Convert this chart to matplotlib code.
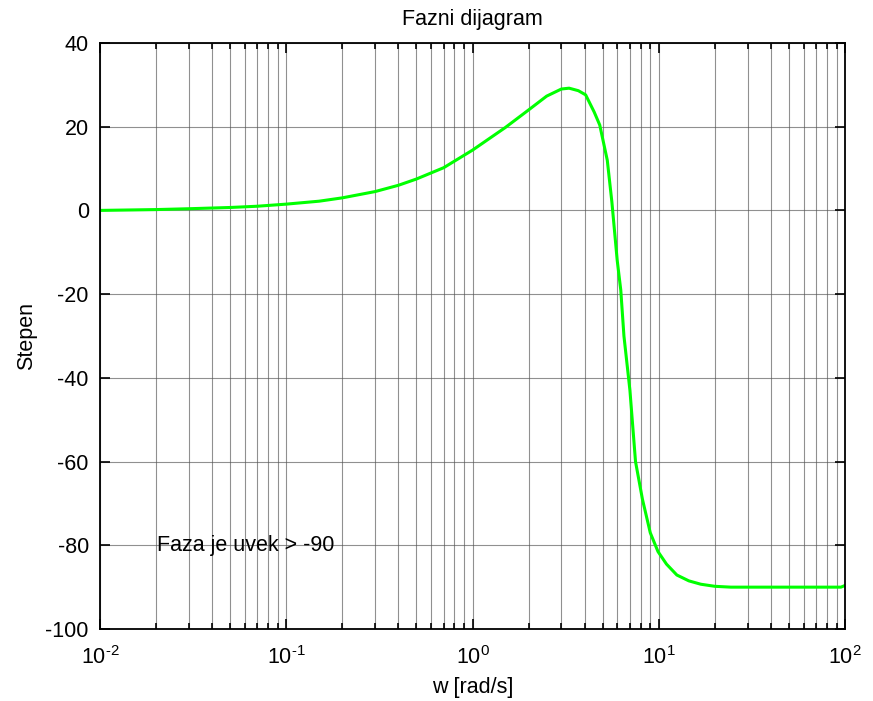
import matplotlib
matplotlib.use("Agg")
import matplotlib.pyplot as plt
import numpy as np
from matplotlib.ticker import LogLocator, MultipleLocator, NullFormatter, FuncFormatter

# --- fazni dijagram (procitano sa slike) ---
w = [0.01, 0.02, 0.03, 0.05, 0.07, 0.1, 0.15, 0.2, 0.3, 0.4, 0.5, 0.7,
     1.0, 1.5, 2.0, 2.5, 3.0, 3.3, 3.7, 4.05, 4.5, 4.82, 5.29, 5.6, 5.98,
     6.25, 6.5, 7.0, 7.5, 8.17, 9.0, 9.9, 11.0, 12.5, 14.5, 16.8, 20.0,
     24.4, 40.0, 70.0, 95.0, 100.0]
faza = [0.0, 0.2, 0.4, 0.7, 1.0, 1.5, 2.2, 3.0, 4.5, 6.0, 7.5, 10.2,
        14.4, 19.8, 24.0, 27.3, 29.0, 29.2, 28.6, 27.6, 23.5, 20.4, 12.0,
        2.0, -11.9, -19.0, -30.0, -43.0, -60.0, -69.0, -77.0, -81.5, -84.5,
        -87.1, -88.5, -89.3, -89.8, -90.0, -90.0, -90.0, -90.0, -89.6]

naslov = "Fazni dijagram"
xlab = "w [rad/s]"
ylab = "Stepen"
napomena = "Faza je uvek > -90"

plt.rcParams["font.family"] = ["Liberation Sans", "DejaVu Sans"]
plt.rcParams["axes.unicode_minus"] = False
plt.rcParams["mathtext.fontset"] = "custom"
plt.rcParams["mathtext.rm"] = "Liberation Sans"
plt.rcParams["mathtext.it"] = "Liberation Sans"
plt.rcParams["mathtext.default"] = "regular"
FS = 15.5

def dekada(x, pos):
    e = int(round(np.log10(x)))
    if e < 0:
        return r"$\mathregular{10^{\text{-}%d}}$" % (-e)
    return r"$\mathregular{10^{%d}}$" % e

fig = plt.figure(figsize=(8.73, 7.01), dpi=100)
ax = fig.add_axes([0.1145, 0.1027, 0.8535, 0.836])

ax.semilogx(w, faza, color=(0, 1, 0), lw=2.2)
ax.set_xlim(1e-2, 1e2)
ax.set_ylim(-100, 40)

ax.xaxis.set_major_locator(LogLocator(base=10, numticks=10))
ax.xaxis.set_major_formatter(FuncFormatter(dekada))
ax.xaxis.set_minor_locator(LogLocator(base=10, subs=range(2, 10), numticks=20))
ax.xaxis.set_minor_formatter(NullFormatter())
ax.yaxis.set_major_locator(MultipleLocator(20))

ax.grid(True, which="major", color="#555555", lw=0.8, alpha=0.65)
ax.grid(True, which="minor", axis="x", color="#555555", lw=0.8, alpha=0.65)
ax.set_axisbelow(True)

ax.tick_params(which="both", direction="in", top=True, right=True,
               labelsize=FS, width=1.2)
ax.tick_params(which="major", length=7)
ax.tick_params(which="minor", length=4)
ax.tick_params(axis="x", which="major", pad=12)
ax.tick_params(axis="y", which="major", pad=8)
for s in ax.spines.values():
    s.set_linewidth(1.3)

ax.text(0.0202, -80, napomena, ha="left", va="center", fontsize=FS)
ax.set_title(naslov, fontsize=FS, pad=13)
ax.set_xlabel(xlab, fontsize=FS, labelpad=6)
ax.set_ylabel(ylab, fontsize=FS, labelpad=6)

fig.savefig("out.png", dpi=100)
